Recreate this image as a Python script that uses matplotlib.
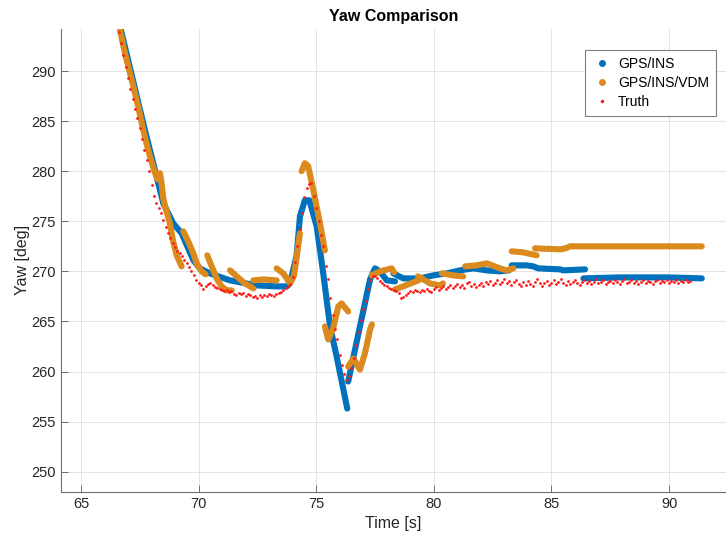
import numpy as np
import matplotlib
matplotlib.use("Agg")
import matplotlib.pyplot as plt
from matplotlib.lines import Line2D

plt.rcParams['font.family'] = ['Liberation Sans', 'DejaVu Sans']

nan = np.nan
# ---------------- data ----------------
ins_t = [66.7, 67.21, 67.72, 68.15, 68.5, 68.92, 69.28, 69.78, 70.06, 70.48, 71.34, 72.47, 73.32, 73.75, 73.89,
         74.17, 74.31, 74.52, 74.71, 75.02, 75.3, 75.59, 75.87, 76.32, nan,
         76.36, 76.86, 77.29, 77.5, 77.71, 78.0, 78.35, nan,
         78.28, 78.7, 79.41, 79.98, 80.55, 81.11, 81.68, 82.25, 82.81, 83.2, nan,
         83.31, 83.95, 84.23, 84.44, 85.37, 85.5, 86.43, nan,
         86.36, 87.92, 89.9, 91.39]
ins_y = [294.1, 289.1, 284.1, 280.1, 276.8, 274.8, 273.8, 271.1, 270.3, 269.8, 269.1, 268.6, 268.5, 268.5, 268.8,
         271.6, 275.5, 277.1, 277.1, 274.5, 269.8, 264.5, 261.5, 256.3, nan,
         259.0, 264.5, 269.2, 270.3, 270.0, 269.1, 269.0, nan,
         269.8, 269.3, 269.3, 269.6, 269.8, 270.1, 270.3, 270.1, 270.0, 270.1, nan,
         270.6, 270.6, 270.5, 270.3, 270.2, 270.1, 270.2, nan,
         269.3, 269.4, 269.4, 269.3]

vdm_t = [66.66, 66.87, 67.16, 67.44, 67.65, 67.86, 68.07, 68.25, nan,
         68.36, 68.44, 68.5, 68.57, 68.78, 68.92, 69.07, 69.28, nan,
         69.35, 69.56, 69.78, 69.92, 70.13, 70.3, nan,
         70.37, 70.56, 70.77, 70.98, 71.2, 71.41, nan,
         71.34, 71.62, 71.97, 72.33, nan,
         72.33, 72.75, 73.32, nan,
         73.32, 73.6, 73.89, 74.06, 74.18, 74.31, nan,
         74.38, 74.52, 74.66, 74.88, 75.16, 75.37, nan,
         75.37, 75.51, 75.71, 75.94, 76.08, 76.36, nan,
         76.36, 76.58, 76.86, 77.07, 77.29, 77.37, nan,
         77.36, 77.71, 78.21, 78.31, nan,
         78.35, 78.7, 79.34, 79.48, nan,
         79.33, 79.84, 80.26, 80.39, nan,
         80.34, 80.83, 81.25, nan,
         81.33, 81.82, 82.25, 82.81, 83.1, 83.38, nan,
         83.31, 83.8, 84.37, nan,
         84.3, 85.37, 85.6, 85.79, 91.39]
vdm_y = [294.1, 291.8, 289.1, 286.4, 284.1, 282.1, 280.4, 279.2, nan,
         279.8, 278.6, 277.3, 276.6, 274.8, 273.0, 271.6, 270.5, nan,
         274.0, 273.0, 271.8, 270.8, 270.0, 269.7, nan,
         271.6, 270.5, 269.3, 268.5, 268.1, 268.1, nan,
         270.1, 269.5, 268.8, 268.3, nan,
         269.1, 269.2, 269.1, nan,
         270.3, 269.8, 268.8, 269.6, 271.6, 273.8, nan,
         280.0, 280.8, 280.5, 278.1, 274.8, 272.1, nan,
         264.5, 263.2, 264.2, 266.5, 266.8, 266.0, nan,
         260.5, 261.3, 260.2, 261.8, 264.2, 264.7, nan,
         269.6, 270.0, 270.3, 269.9, nan,
         268.2, 268.5, 269.1, 269.3, nan,
         269.5, 268.8, 268.6, 268.8, nan,
         269.8, 269.6, 269.5, nan,
         270.5, 270.6, 270.8, 270.3, 270.1, 270.3, nan,
         272.0, 271.9, 271.6, nan,
         272.3, 272.2, 272.3, 272.5, 272.5]

truth_t0 = 66.6
truth_dt = 0.1
truth_y = [
    293.9, 292.8, 291.6, 290.4, 289.3, 288.2, 287.2, 286.2, 285.3, 284.3,
    283.2, 282.1, 281.1, 280.0, 278.6, 277.5, 276.8, 276.3, 275.8, 275.1,
    274.4, 273.8, 273.3, 272.8, 272.4, 272.0, 271.8, 271.5, 271.1, 270.8,
    270.4, 270.0, 269.6, 269.1, 268.8, 268.6, 268.2, 268.5, 268.7, 268.8,
    268.6, 268.4, 268.3, 268.2, 268.1, 268.0, 268.1, 267.9, 268.0, 267.7,
    267.6, 267.8, 267.7, 267.8, 267.5, 267.7, 267.6, 267.4, 267.5, 267.3,
    267.6, 267.4, 267.6, 267.5, 267.7, 267.6, 267.5, 267.7, 267.8, 267.9,
    268.1, 268.3, 268.5, 268.7, 269.4, 270.9, 272.5, 274.2, 275.8, 277.4,
    278.3, 278.7, 278.8, 277.5, 276.3, 275.0, 273.6, 272.5, 270.5, 269.2,
    267.3, 265.6, 264.2, 263.2, 261.7, 260.7, 259.8, 259.2, 259.6, 260.4,
    261.4, 262.6, 263.9, 265.1, 266.2, 267.0, 268.2, 269.1, 269.5, 269.5,
    269.3, 269.0, 268.8, 268.6, 268.5, 268.3, 268.2, 268.1, 268.0, 267.8,
    267.3, 267.4, 267.6, 267.8, 268.0, 267.9, 268.1, 268.0, 267.9, 268.1,
    268.0, 268.2, 268.0, 267.9, 268.2, 268.4, 268.1, 268.3, 268.5, 268.2,
    268.4, 268.6, 268.3, 268.5, 268.7, 268.4, 268.6, 268.3, 268.8, 268.9,
    268.5, 268.7, 268.4, 268.6, 268.8, 268.5, 268.9, 268.7, 269.0, 268.6,
    268.8, 269.1, 268.7, 268.9, 269.2, 268.8, 269.0, 268.6, 268.9, 269.1,
    268.7, 268.5, 268.9, 268.6, 269.0, 268.7, 268.5, 268.9, 269.2, 268.8,
    268.5, 268.8, 269.0, 268.6, 268.8, 269.1, 268.7, 268.9, 269.2, 268.8,
    268.6, 269.0, 268.7, 268.9, 269.1, 268.8, 268.6, 268.9, 269.1, 268.8,
    269.0, 268.7, 268.9, 269.2, 268.8, 268.9, 269.1, 268.7, 268.9, 269.0,
    268.8, 269.1, 268.9, 268.7, 269.0, 269.2, 268.8, 268.9, 269.1, 268.8,
    269.0, 268.7, 268.9, 269.1, 268.8, 269.0, 268.9, 268.7, 269.0, 269.1,
    268.8, 269.0, 268.9, 269.1, 268.8, 269.0, 268.9, 269.1, 268.8, 269.0,
    268.9, 269.1, 268.9, 269.0]
truth_t = truth_t0 + truth_dt * np.arange(len(truth_y))

x_ticks = [65, 70, 75, 80, 85, 90]
y_ticks = [250, 255, 260, 265, 270, 275, 280, 285, 290]

c_ins = '#0072BD'
c_vdm = '#DB8A1E'
c_truth = '#FF1A1A'

# ---------------- figure ----------------
fig = plt.figure(figsize=(7.26, 5.41), dpi=100)
ax = fig.add_axes([0.0836, 0.0911, 0.9164, 0.8553])

ax.plot(ins_t, ins_y, color=c_ins, lw=4.4, solid_capstyle='round', solid_joinstyle='round')
ax.plot(vdm_t, vdm_y, color=c_vdm, lw=4.4, solid_capstyle='round', solid_joinstyle='round')
ax.plot(truth_t, truth_y, ls='none', marker='o', ms=2.0, color=c_truth, mew=0)

ax.set_xlim(64.14, 92.42)
ax.set_ylim(248.0, 294.2)
ax.set_xticks(x_ticks)
ax.set_yticks(y_ticks)
ax.grid(True, color='#E3E3E3', lw=0.7)
ax.set_axisbelow(True)
for s in ['top', 'right']:
    ax.spines[s].set_visible(False)
for s in ['left', 'bottom']:
    ax.spines[s].set_color('#6E6E6E')
    ax.spines[s].set_linewidth(0.8)
ax.tick_params(direction='in', length=5, width=0.7, color='#6E6E6E',
               labelsize=10.5, labelcolor='#262626')

ax.set_xlabel('Time [s]', fontsize=11.5, color='#262626', labelpad=4)
ax.set_ylabel('Yaw [deg]', fontsize=11.5, color='#262626', labelpad=1)
ax.set_title('Yaw Comparison', fontsize=11.5, fontweight='bold', color='black', pad=6)

handles = [Line2D([], [], ls='none', marker='.', ms=8, color=c_ins),
           Line2D([], [], ls='none', marker='.', ms=8, color=c_vdm),
           Line2D([], [], ls='none', marker='.', ms=3, color=c_truth)]
leg = ax.legend(handles, ['GPS/INS', 'GPS/INS/VDM', 'Truth'], loc='upper left',
                bbox_to_anchor=(0.788, 0.9546), fontsize=10, frameon=True, fancybox=False,
                edgecolor='#7F7F7F', framealpha=1, handlelength=1.4, handletextpad=0.47,
                borderpad=0.5, labelspacing=0.35, borderaxespad=0)
leg.get_frame().set_linewidth(0.8)

fig.savefig('out.png', dpi=100)
